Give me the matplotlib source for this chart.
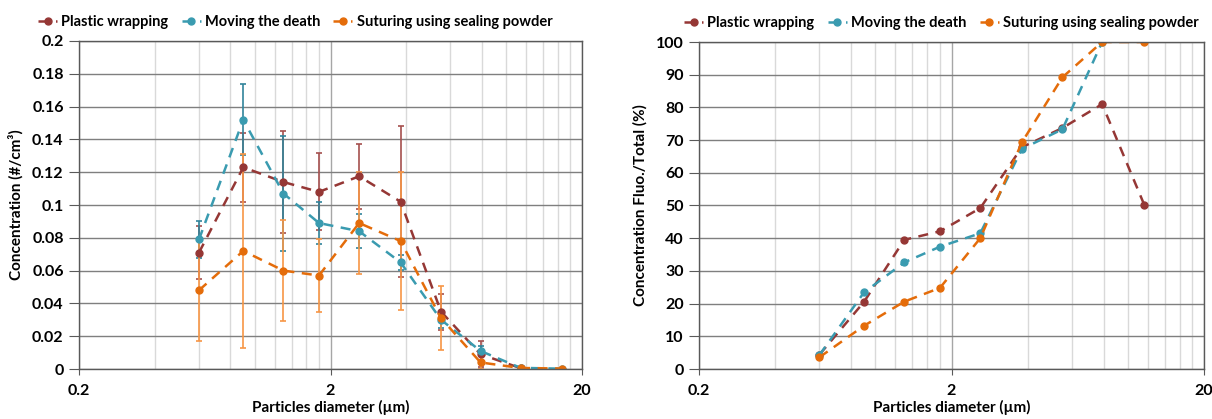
import numpy as np
import matplotlib
matplotlib.use('Agg')
import matplotlib.pyplot as plt
from matplotlib.ticker import FixedLocator, FuncFormatter, NullFormatter

plt.rcParams['font.family'] = ['Lato', 'DejaVu Sans']
plt.rcParams['font.weight'] = 'bold'

# particle diameter (um)
diam = [0.6, 0.9, 1.3, 1.8, 2.6, 3.8, 5.5, 7.9, 11.4, 16.6]
diam_r = [0.6, 0.9, 1.3, 1.8, 2.6, 3.8, 5.5, 7.9, 11.6]

names = ['Plastic wrapping', 'Moving the death', 'Suturing using sealing powder']

# left: concentration (#/cm3) and error
conc_plastic = [0.071, 0.123, 0.114, 0.108, 0.1175, 0.102, 0.035, 0.009, 0.0005, np.nan]
err_plastic = [0.016, 0.021, 0.031, 0.0235, 0.02, 0.046, 0.011, 0.008, 0.0, np.nan]
conc_moving = [0.079, 0.152, 0.107, 0.089, 0.084, 0.065, 0.030, 0.011, 0.0007, 0.0002]
err_moving = [0.0115, 0.0215, 0.035, 0.013, 0.0105, 0.0045, 0.005, 0.003, 0.0, 0.0]
conc_sutur = [0.048, 0.072, 0.060, 0.057, 0.089, 0.078, 0.031, 0.004, 0.0006, 0.0003]
err_sutur = [0.031, 0.059, 0.031, 0.022, 0.031, 0.042, 0.0195, 0.004, 0.0, 0.0]

# right: fluo / total (%)
frac_plastic = [4.4, 20.5, 39.5, 42.1, 49.2, 67.8, 73.7, 81.0, 50.2]
frac_moving = [4.3, 23.4, 32.6, 37.4, 41.5, 67.3, 73.3, 100.0, np.nan]
frac_sutur = [3.6, 13.2, 20.6, 24.8, 40.0, 69.3, 89.2, 100.0, 100.0]

colors = ['#953735', '#3A9BB0', '#E46C0A']
errcolors = ['#A5504E', '#31849B', '#F79646']

fig = plt.figure(figsize=(12.12, 4.19), dpi=100)
ax1 = fig.add_axes([79/1212, 50/419, 503/1212, 328/419])
ax2 = fig.add_axes([699/1212, 50/419, 505/1212, 327/419])


def style_axis(ax):
    ax.set_xscale('log')
    ax.set_xlim(0.2, 20)
    ax.xaxis.set_major_locator(FixedLocator([0.2, 2, 20]))
    ax.xaxis.set_major_formatter(FuncFormatter(lambda v, p: '{:g}'.format(v)))
    minors = [0.2 * k for k in range(2, 10)] + [2 * k for k in range(2, 10)]
    ax.xaxis.set_minor_locator(FixedLocator(minors))
    ax.xaxis.set_minor_formatter(NullFormatter())
    ax.grid(True, which='major', axis='y', color='#7f7f7f', lw=1.0)
    ax.grid(True, which='major', axis='x', color='#a6a6a6', lw=1.0)
    ax.grid(True, which='minor', axis='x', color='#d9d9d9', lw=1.0)
    ax.set_axisbelow(True)
    for s in ax.spines.values():
        s.set_color('#595959')
        s.set_linewidth(1.0)
    ax.tick_params(axis='y', which='major', length=7, color='#595959', labelsize=11.5, pad=4)
    ax.tick_params(axis='x', which='major', length=4, color='#595959', labelsize=11.5, pad=7)
    ax.tick_params(axis='x', which='minor', length=0)
    ax.set_xlabel('Particles diameter (µm)', fontsize=11, fontweight='bold', labelpad=1)


# left chart
conc = [conc_plastic, conc_moving, conc_sutur]
errs = [err_plastic, err_moving, err_sutur]
for i in range(3):
    ax1.errorbar(diam, conc[i], yerr=errs[i], color=colors[i], ecolor=errcolors[i],
                 ls=(0, (4, 3)), lw=1.8, marker='o', ms=5, capsize=2.5,
                 elinewidth=1.2, capthick=1.2, label=names[i])
style_axis(ax1)
ax1.set_ylim(0, 0.2)
ax1.set_yticks(np.arange(0, 0.201, 0.02))
ax1.yaxis.set_major_formatter(FuncFormatter(lambda v, p: '{:g}'.format(round(v, 2))))
ax1.set_ylabel('Concentration (#/cm³)', fontsize=11, fontweight='bold', labelpad=6)

# right chart
fracs = [frac_plastic, frac_moving, frac_sutur]
for i in range(3):
    ax2.plot(diam_r, fracs[i], color=colors[i], ls=(0, (4, 3)), lw=1.8,
             marker='o', ms=5, label=names[i])
style_axis(ax2)
ax2.set_ylim(0, 100)
ax2.set_yticks(np.arange(0, 101, 10))
ax2.set_ylabel('Concentration Fluo./Total (%)', fontsize=11, fontweight='bold', labelpad=6)

for ax, cx in [(ax1, 0.43), (ax2, 0.48)]:
    h, l = ax.get_legend_handles_labels()
    h = [x[0] if hasattr(x, 'lines') else x for x in h]
    ax.legend(h, l, loc='lower center', bbox_to_anchor=(cx, 1.0), ncol=3, frameon=False,
              fontsize=10.5, handlelength=1.3, handletextpad=0.3, columnspacing=0.9,
              borderaxespad=0.4)

fig.savefig('out.png', dpi=100)
